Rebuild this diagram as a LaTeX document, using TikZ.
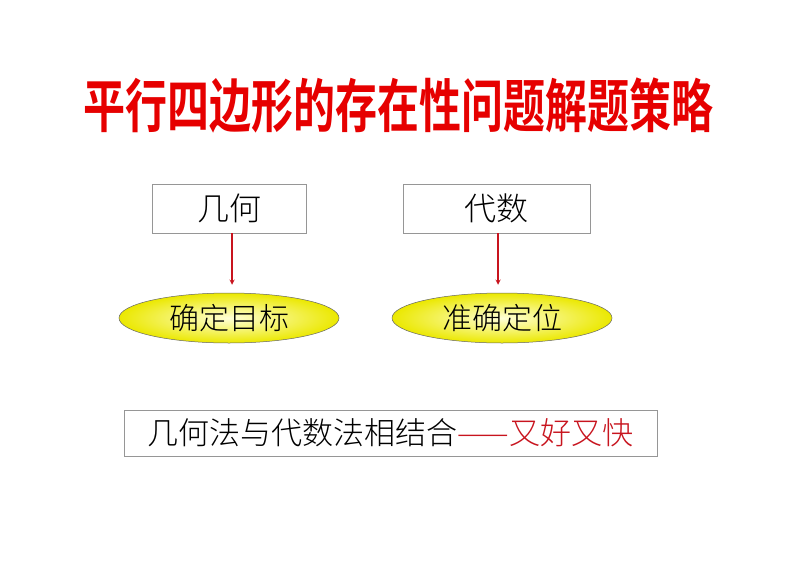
\documentclass[tikz,border=0pt]{standalone}
\usepackage{fontspec}
\usepackage{graphicx}
\usetikzlibrary{shapes.geometric, arrows, positioning}
\newfontfamily\cjk{Noto Sans CJK SC}
\newfontfamily\cjkthin{Noto Sans CJK SC Light}
\newfontfamily\cjkheavy{Noto Sans CJK SC Bold}
\definecolor{titlered}{RGB}{230, 0, 0}
\definecolor{arrowred}{RGB}{200, 20, 30}
\definecolor{boxgray}{RGB}{150, 150, 150}
\definecolor{dashred}{RGB}{200, 20, 30}
\tikzstyle{method} = [rectangle, minimum height=49pt, text centered,
                      draw=boxgray, line width=0.6pt, inner sep=0pt,
                      font=\cjkthin\fontsize{32}{32}\selectfont]
\tikzstyle{target} = [ellipse, minimum width=220pt, minimum height=50pt,
                      draw=black!60, line width=0.5pt, inner sep=0pt,
                      inner color={rgb,255:red,255;green,255;blue,215},
                      outer color={rgb,255:red,235;green,232;blue,0},
                      font=\cjkthin\fontsize{30}{30}\selectfont]
\tikzstyle{arrow} = [arrowred, line width=1.3pt, ->, >=stealth, shorten >=8pt]

\begin{document}
\begin{tikzpicture}[x=1pt, y=-1pt]
        \useasboundingbox[fill=white] (0,0) rectangle (794,562);

        %Title
        \node (Title) at (398,106) [text=titlered, font=\cjkheavy\fontsize{42}{42}\selectfont]
              {\scalebox{1}[1.38]{平行四边形的存在性问题解题策略}};

        %Two methods
        \node (Geo) at (229,208.5) [method, minimum width=154pt] {几何};
        \node (Alg) at (496.5,208.5) [method, minimum width=187pt] {代数};

        %Targets
        \node (Goal) at (229,318) [target] {确定目标};
        \node (Locate) at (502,318) [target] {准确定位};

        %Method to target
        \draw [arrow] ([xshift=3pt]Geo.south) -- ([xshift=3pt]Geo.south |- Goal.north);
        \draw [arrow] ([xshift=1.5pt]Alg.south) -- ([xshift=1.5pt]Alg.south |- Locate.north);

        %Combined
        \node (Combine) at (390.5,433) [method, minimum width=533pt, minimum height=46pt,
              font=\cjkthin\fontsize{31}{31}\selectfont]
              {几何法与代数法相结合\textcolor{dashred}{——又好又快}};

    \end{tikzpicture}
\end{document}
